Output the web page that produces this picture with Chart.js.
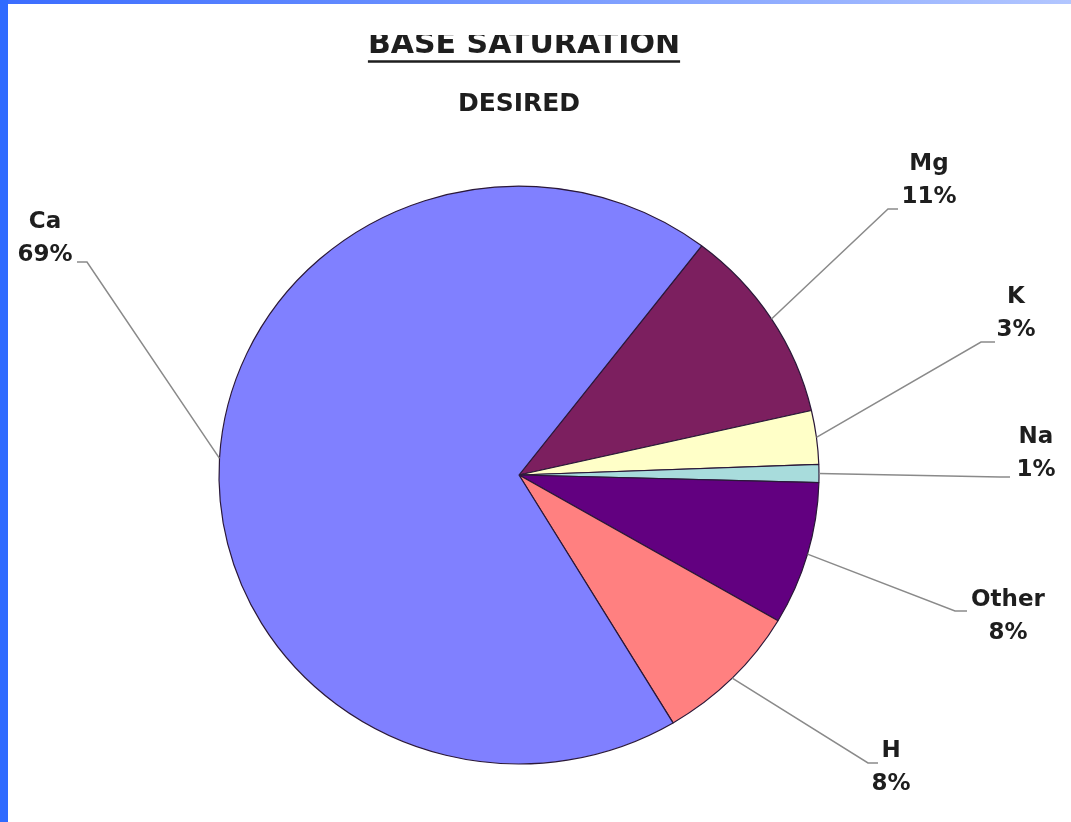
<!DOCTYPE html>
<html>
<head>
<meta charset="utf-8">
<title>Base Saturation</title>
<script src="https://cdn.jsdelivr.net/npm/chart.js@4.4.0/dist/chart.umd.min.js"></script>
<style>
  html, body { margin: 0; padding: 0; background: #fff; overflow: hidden; }
  canvas { display: block; }
</style>
</head>
<body>
<canvas id="pie-chart" width="1071" height="822"></canvas>
<script>
const elements = ["Mg", "K", "Na", "Other", "H", "Ca"];
const saturation = [11, 3, 1, 8, 8, 69];
const sliceColors = ['#7c1f5f', '#ffffc8', '#a8dcdc', '#620080', '#ff8080', '#8080ff'];

// label block: text centre (x, first line y), leader elbow (ex, ey), tail end tx
const labelSpots = [
  { x: 929, y: 164, ex: 888, ey: 209, tx: 898 },
  { x: 1016, y: 297, ex: 981, ey: 342, tx: 995 },
  { x: 1036, y: 437, ex: 1000, ey: 477, tx: 1010 },
  { x: 1008, y: 600, ex: 955, ey: 611, tx: 967 },
  { x: 891, y: 751, ex: 868, ey: 763, tx: 878 },
  { x: 45, y: 222, ex: 87, ey: 262, tx: 77 }
];

const squash = 0.963; // pie is a touch flatter than round

const framePlugin = {
  id: 'frame',
  beforeDraw(chart) {
    const c = chart.ctx;
    c.save();
    c.fillStyle = '#fff';
    c.fillRect(0, 0, chart.width, chart.height);
    const g = c.createLinearGradient(0, 0, chart.width, 0);
    g.addColorStop(0, '#3a6cff');
    g.addColorStop(1, '#b2c6ff');
    c.fillStyle = g;
    c.fillRect(0, 0, chart.width, 4);
    c.fillStyle = '#2f6bff';
    c.fillRect(0, 0, 8, chart.height);
    c.restore();
  }
};

const squashPlugin = {
  id: 'squash',
  beforeDatasetsDraw(chart) {
    const arc = chart.getDatasetMeta(0).data[0];
    const c = chart.ctx;
    c.save();
    c.translate(arc.x, arc.y);
    c.scale(1, squash);
    c.translate(-arc.x, -arc.y);
  },
  afterDatasetsDraw(chart) {
    chart.ctx.restore();
  }
};

const labelPlugin = {
  id: 'sliceLabels',
  afterDraw(chart) {
    const c = chart.ctx;
    const meta = chart.getDatasetMeta(0);
    c.save();
    c.lineWidth = 1.5;
    c.strokeStyle = '#8a8a8a';
    c.fillStyle = '#1e1e1e';
    c.font = 'bold 23px "DejaVu Sans"';
    c.textAlign = 'center';
    c.textBaseline = 'middle';
    meta.data.forEach((arc, i) => {
      const spot = labelSpots[i];
      const mid = (arc.startAngle + arc.endAngle) / 2;
      const sx = arc.x + Math.cos(mid) * arc.outerRadius;
      const sy = arc.y + Math.sin(mid) * arc.outerRadius * squash;
      c.beginPath();
      c.moveTo(sx, sy);
      c.lineTo(spot.ex, spot.ey);
      c.lineTo(spot.tx, spot.ey);
      c.stroke();
      c.fillText(elements[i], spot.x, spot.y);
      c.fillText(saturation[i] + '%', spot.x, spot.y + 33);
    });

    // heading, its top edge cut off by the frame
    c.save();
    c.beginPath();
    c.rect(0, 35, chart.width, 60);
    c.clip();
    c.font = 'bold 30px "DejaVu Sans"';
    c.textBaseline = 'alphabetic';
    c.fillText('BASE SATURATION', 524, 53);
    c.restore();
    c.font = 'bold 30px "DejaVu Sans"';
    const w = c.measureText('BASE SATURATION').width;
    c.strokeStyle = '#1e1e1e';
    c.lineWidth = 2.5;
    c.beginPath();
    c.moveTo(524 - w / 2, 61.5);
    c.lineTo(524 + w / 2, 61.5);
    c.stroke();

    c.font = 'bold 25px "DejaVu Sans"';
    c.textBaseline = 'middle';
    c.fillText('DESIRED', 519, 104);
    c.restore();
  }
};

const ctx = document.getElementById('pie-chart').getContext('2d');
const pieChart = new Chart(ctx, {
  type: 'pie',
  data: {
    labels: elements,
    datasets: [{
      data: saturation,
      backgroundColor: sliceColors,
      borderColor: '#2a1838',
      borderWidth: 1.2
    }]
  },
  options: {
    responsive: false,
    animation: false,
    rotation: 37.5,
    radius: 300,
    layout: {
      padding: { top: 175, bottom: 47, left: 219, right: 252 }
    },
    plugins: {
      legend: { display: false },
      tooltip: { enabled: false }
    }
  },
  plugins: [framePlugin, squashPlugin, labelPlugin]
});
</script>
</body>
</html>
